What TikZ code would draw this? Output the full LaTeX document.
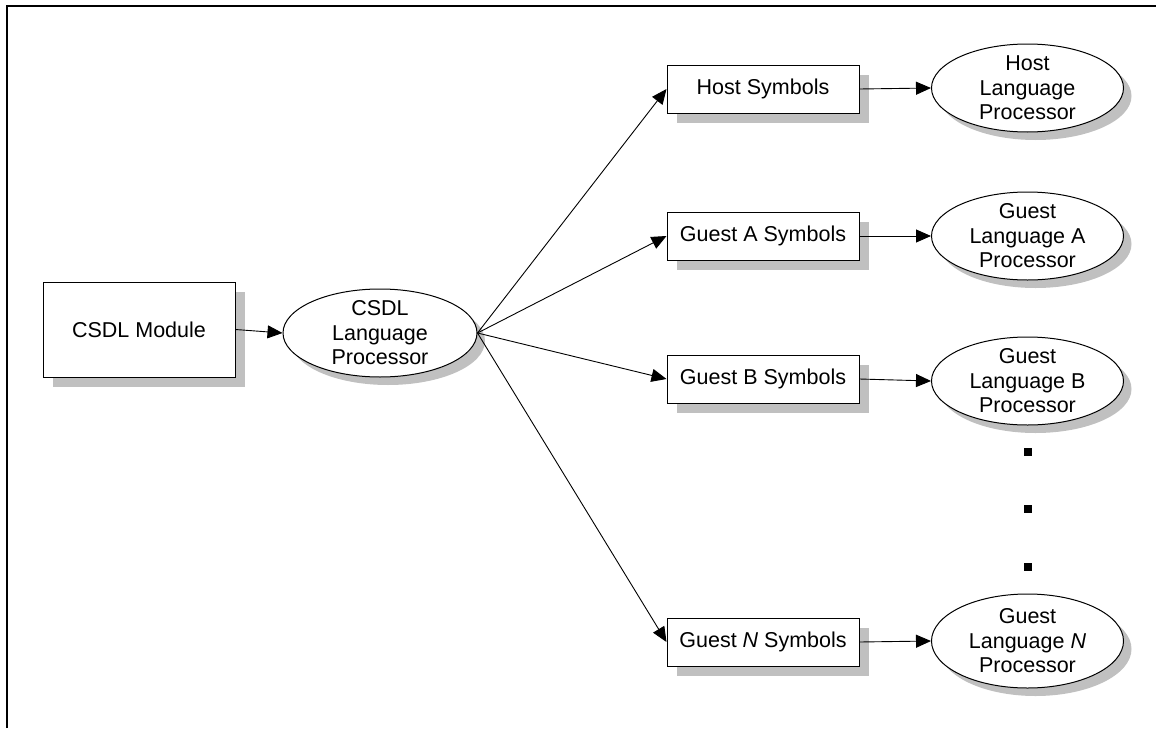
\documentclass[tikz,border=0pt]{standalone}
\usepackage{fontspec}
\setmainfont{Liberation Sans}
\usetikzlibrary{shapes.geometric,shadows,arrows.meta}
\definecolor{shade}{RGB}{192,192,192}
\begin{document}
\begin{tikzpicture}[x=1pt,y=-1pt,
  font=\fontsize{21.5}{24.5}\selectfont,
  frame/.style={line width=2.5pt},
  boxshadow/.style={drop shadow={shadow xshift=10pt, shadow yshift=-10pt, fill=shade, opacity=1}},
  ellshadow/.style={drop shadow={shadow xshift=8pt, shadow yshift=-8pt, fill=shade, opacity=1}},
  sym/.style={draw, line width=1pt, fill=white, minimum width=192pt,
    minimum height=48pt, inner sep=0pt, boxshadow},
  proc/.style={ellipse, draw, line width=1pt, fill=white, minimum width=192pt,
    minimum height=88pt, inner sep=0pt, ellshadow},
  link/.style={-{Triangle[length=15pt,width=13pt]}, line width=0.9pt},
  dotmark/.style={fill=black, minimum size=8pt, inner sep=0pt}]
\useasboundingbox (0,0) rectangle (1156,728);
% page frame
\draw[frame] (7,728) -- (7,6) -- (1156,6);

% source module and its processor
\node[sym, minimum height=95pt] (mod) at (139,329.5) {CSDL Module};
\node[proc, minimum width=194pt] (csdl) at (380,333)
  [label={[align=center]center:CSDL\\Language\\Processor}] {};

% symbol tables
\node[sym] (hs) at (763,89)  {Host Symbols};
\node[sym] (as) at (763,236) {Guest A Symbols};
\node[sym] (bs) at (763,379) {Guest B Symbols};
\node[sym] (ns) at (763,642) {Guest \textit{N} Symbols};

% language processors
\node[proc] (hp) at (1027.5,88)
  [label={[align=center]center:Host\\Language\\Processor}] {};
\node[proc] (ap) at (1027.5,236)
  [label={[align=center]center:Guest\\Language A\\Processor}] {};
\node[proc] (bp) at (1027.5,381)
  [label={[align=center]center:Guest\\Language B\\Processor}] {};
\node[proc, minimum height=94pt] (np) at (1027.5,641)
  [label={[align=center]center:Guest\\Language \textit{N}\\Processor}] {};

% ellipsis dots
\node[dotmark] (d1) at (1027.5,452) {};
\node[dotmark] (d2) at (1027.5,509) {};
\node[dotmark] (d3) at (1027.5,567) {};

% connectors
\draw[link] (mod.east) -- (csdl.west);
\draw[link] (csdl.east) -- (hs.west);
\draw[link] (csdl.east) -- (as.west);
\draw[link] (csdl.east) -- (bs.west);
\draw[link] (csdl.east) -- (ns.west);
\draw[link] (hs.east) -- (hp.west);
\draw[link] (as.east) -- (ap.west);
\draw[link] (bs.east) -- (bp.west);
\draw[link] (ns.east) -- (np.west);
\end{tikzpicture}
\end{document}
